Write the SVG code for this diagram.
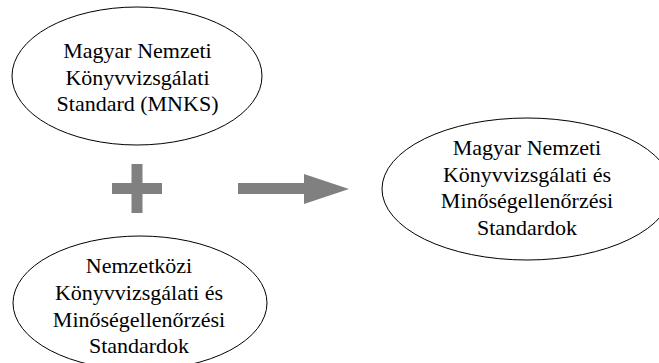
<svg xmlns="http://www.w3.org/2000/svg" width="659" height="363" viewBox="0 0 659 363">
<style>
.node ellipse{fill:#fff;stroke:#000;stroke-width:1}
.node text{font-family:"Liberation Serif","Times New Roman",serif;font-size:22px;fill:#000;text-anchor:middle}
.sym{fill:#808080}
</style>
<rect width="659" height="363" fill="#fff"/>
<g id="node-mnks" class="node">
<ellipse cx="137" cy="76" rx="125" ry="69"/>
<text x="137.5" y="58">Magyar Nemzeti</text>
<text x="137.5" y="85">Könyvvizsgálati</text>
<text x="137.5" y="111">Standard (MNKS)</text>
</g>
<g id="node-intl" class="node">
<ellipse cx="140" cy="303" rx="127" ry="67"/>
<text x="139" y="273">Nemzetközi</text>
<text x="139" y="300">Könyvvizsgálati és</text>
<text x="139" y="327">Minőségellenőrzési</text>
<text x="139" y="353">Standardok</text>
</g>
<g id="node-result" class="node">
<ellipse cx="527" cy="189" rx="145" ry="71"/>
<text x="527" y="155">Magyar Nemzeti</text>
<text x="527" y="182">Könyvvizsgálati és</text>
<text x="527" y="208">Minőségellenőrzési</text>
<text x="527" y="235">Standardok</text>
</g>
<g id="connectors">
<g id="plus" class="sym">
<rect x="131.5" y="164" width="11" height="49"/>
<rect x="112" y="183" width="50" height="11"/>
</g>
<g id="arrow" class="sym">
<rect x="238" y="183" width="67" height="11"/>
<polygon points="304,174 349,189 304,204"/>
</g>
</g>
</svg>
